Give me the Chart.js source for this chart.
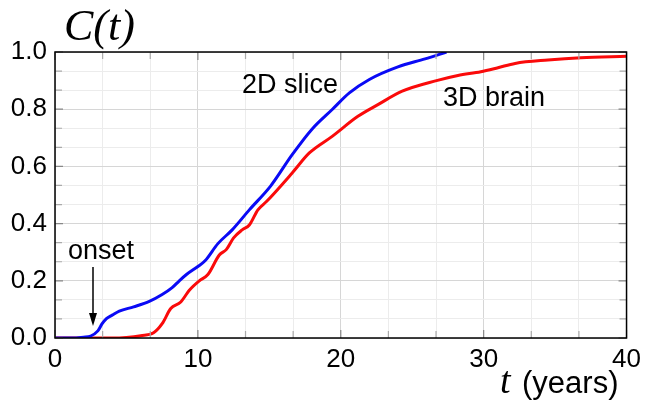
<!DOCTYPE html>
<html>
<head>
<meta charset="utf-8">
<script src="https://cdn.jsdelivr.net/npm/chart.js@4"></script>
<style>
  html, body { margin: 0; padding: 0; background: #fff; }
  #wrap { width: 647px; height: 403px; position: relative; }
</style>
</head>
<body>
<div id="wrap"><canvas id="myChart" width="647" height="403"></canvas></div>
<script>
// values
var sliceT = [0, 1, 2, 2.5, 3, 3.3, 3.6, 4, 4.5, 5.5, 6.6, 7.5, 8.2, 8.7, 9.2, 10, 10.5, 11.4, 12.4, 13.6, 15.1, 16.6, 18, 19.4, 20.6, 22, 24, 25.9, 27.4]
var sliceC = [0, 0, 0.003, 0.007, 0.025, 0.05, 0.068, 0.08, 0.094, 0.109, 0.128, 0.152, 0.176, 0.2, 0.222, 0.25, 0.27, 0.33, 0.378, 0.448, 0.532, 0.641, 0.731, 0.799, 0.857, 0.904, 0.948, 0.976, 1.0]
var brainT = [0, 4, 5, 6, 6.9, 7.5, 8.1, 8.8, 9.4, 10.1, 10.7, 11.5, 12, 12.5, 13.1, 13.6, 14.2, 14.8, 16.6, 17.8, 19.4, 21.2, 22.6, 24.3, 26.7, 28.2, 29.8, 31, 32.2, 34.5, 36.8, 40]
var brainC = [0, 0, 0.002, 0.008, 0.018, 0.05, 0.103, 0.126, 0.167, 0.2, 0.222, 0.29, 0.31, 0.35, 0.378, 0.395, 0.448, 0.477, 0.577, 0.647, 0.705, 0.775, 0.816, 0.863, 0.9, 0.918, 0.931, 0.945, 0.96, 0.972, 0.98, 0.985]
var xTickLabels = ['0', '10', '20', '30', '40']
var yTickLabels = ['0.0', '0.2', '0.4', '0.6', '0.8', '1.0']

function pairs(xs, ys) {
    var out = []
    for (var i = 0; i < xs.length; i++) out.push({ x: xs[i], y: ys[i] })
    return out
}

function isMajor(v, step) {
    var r = v / step
    return Math.abs(r - Math.round(r)) < 1e-6
}

const sans = '"Liberation Sans", Arial, sans-serif'
const serif = '"Liberation Serif", "Times New Roman", serif'

// frame, inner ticks and the text notes
const decorations = {
    id: 'decorations',
    afterDatasetsDraw(chart) {
        const ctx = chart.ctx
        const a = chart.chartArea
        const xs = chart.scales.x, ys = chart.scales.y
        ctx.save()
        // inner ticks on all four sides
        ctx.lineWidth = 1.2
        xs.ticks.forEach(function (t) {
            const px = xs.getPixelForValue(t.value)
            const major = isMajor(t.value, 10)
            ctx.strokeStyle = major ? '#888' : '#aaa'
            const len = major ? 8 : 7
            ctx.beginPath()
            ctx.moveTo(px, a.bottom); ctx.lineTo(px, a.bottom - len)
            ctx.moveTo(px, a.top); ctx.lineTo(px, a.top + len)
            ctx.stroke()
        })
        ys.ticks.forEach(function (t) {
            const py = ys.getPixelForValue(t.value)
            const major = isMajor(t.value, 0.2)
            ctx.strokeStyle = major ? '#888' : '#aaa'
            const len = major ? 8 : 7
            ctx.beginPath()
            ctx.moveTo(a.left, py); ctx.lineTo(a.left + len, py)
            ctx.moveTo(a.right, py); ctx.lineTo(a.right - len, py)
            ctx.stroke()
        })
        // frame
        ctx.strokeStyle = '#000'
        ctx.lineWidth = 1.5
        ctx.strokeRect(a.left, a.top, a.right - a.left, a.bottom - a.top)

        // texts
        ctx.fillStyle = '#000'
        ctx.textBaseline = 'alphabetic'
        ctx.textAlign = 'left'
        ctx.font = 'italic 44px ' + serif
        ctx.fillText('C(t)', 64, 40)
        ctx.font = '27px ' + sans
        ctx.fillText('2D slice', 242, 93)
        ctx.fillText('3D brain', 443, 106)
        ctx.fillText('onset', 68, 259)
        ctx.font = 'italic 38px ' + serif
        ctx.fillText('t', 500, 393)
        ctx.font = '31px ' + sans
        ctx.fillText('(years)', 522, 393)

        // onset arrow
        ctx.strokeStyle = '#000'
        ctx.lineWidth = 1.5
        ctx.beginPath()
        ctx.moveTo(93, 267); ctx.lineTo(93, 316)
        ctx.stroke()
        ctx.beginPath()
        ctx.moveTo(89, 313); ctx.lineTo(93, 326); ctx.lineTo(97, 313); ctx.closePath()
        ctx.fill()
        ctx.restore()
    }
}

const ctx = document.getElementById('myChart')

new Chart(ctx, {
    type: 'scatter',
    data: {
        datasets: [
            {
                label: '2D slice',
                data: pairs(sliceT, sliceC),
                showLine: true,
                borderColor: 'rgb(10, 10, 245)',
                borderWidth: 3,
                pointRadius: 0,
                tension: 0.3,
                cubicInterpolationMode: 'monotone'
            },
            {
                label: '3D brain',
                data: pairs(brainT, brainC),
                showLine: true,
                borderColor: 'rgb(250, 10, 10)',
                borderWidth: 3,
                pointRadius: 0,
                tension: 0.3,
                cubicInterpolationMode: 'monotone'
            }
        ]
    },
    options: {
        responsive: false,
        animation: false,
        layout: { padding: { left: 0, top: 52, right: 18, bottom: 0 } },
        plugins: {
            legend: { display: false },
            tooltip: { enabled: false }
        },
        scales: {
            x: {
                type: 'linear',
                min: 0,
                max: 40,
                afterFit: function (s) { s.height = 65 },
                afterBuildTicks: function (s) {
                    var t = []
                    for (var i = 0; i <= 12; i++) t.push({ value: i * 10 / 3 })
                    s.ticks = t
                },
                border: { display: false },
                grid: {
                    drawTicks: false,
                    lineWidth: 1,
                    color: function (c) { return isMajor(c.tick.value, 10) ? '#d6d6d6' : '#ececec' }
                },
                ticks: {
                    autoSkip: false,
                    maxRotation: 0,
                    padding: 6,
                    color: '#000',
                    font: { family: sans, size: 26 },
                    callback: function (v) {
                        return isMajor(v, 10) ? xTickLabels[Math.round(v / 10)] : ''
                    }
                }
            },
            y: {
                type: 'linear',
                min: 0,
                max: 1,
                afterFit: function (s) { s.width = 55 },
                afterBuildTicks: function (s) {
                    var t = []
                    for (var i = 0; i <= 15; i++) t.push({ value: i / 15 })
                    s.ticks = t
                },
                border: { display: false },
                grid: {
                    drawTicks: false,
                    lineWidth: 1,
                    color: function (c) { return isMajor(c.tick.value, 0.2) ? '#d6d6d6' : '#ececec' }
                },
                ticks: {
                    autoSkip: false,
                    padding: 8,
                    color: '#000',
                    font: { family: sans, size: 26 },
                    callback: function (v) {
                        return isMajor(v, 0.2) ? yTickLabels[Math.round(v / 0.2)] : ''
                    }
                }
            }
        }
    },
    plugins: [decorations]
});
</script>
</body>
</html>
